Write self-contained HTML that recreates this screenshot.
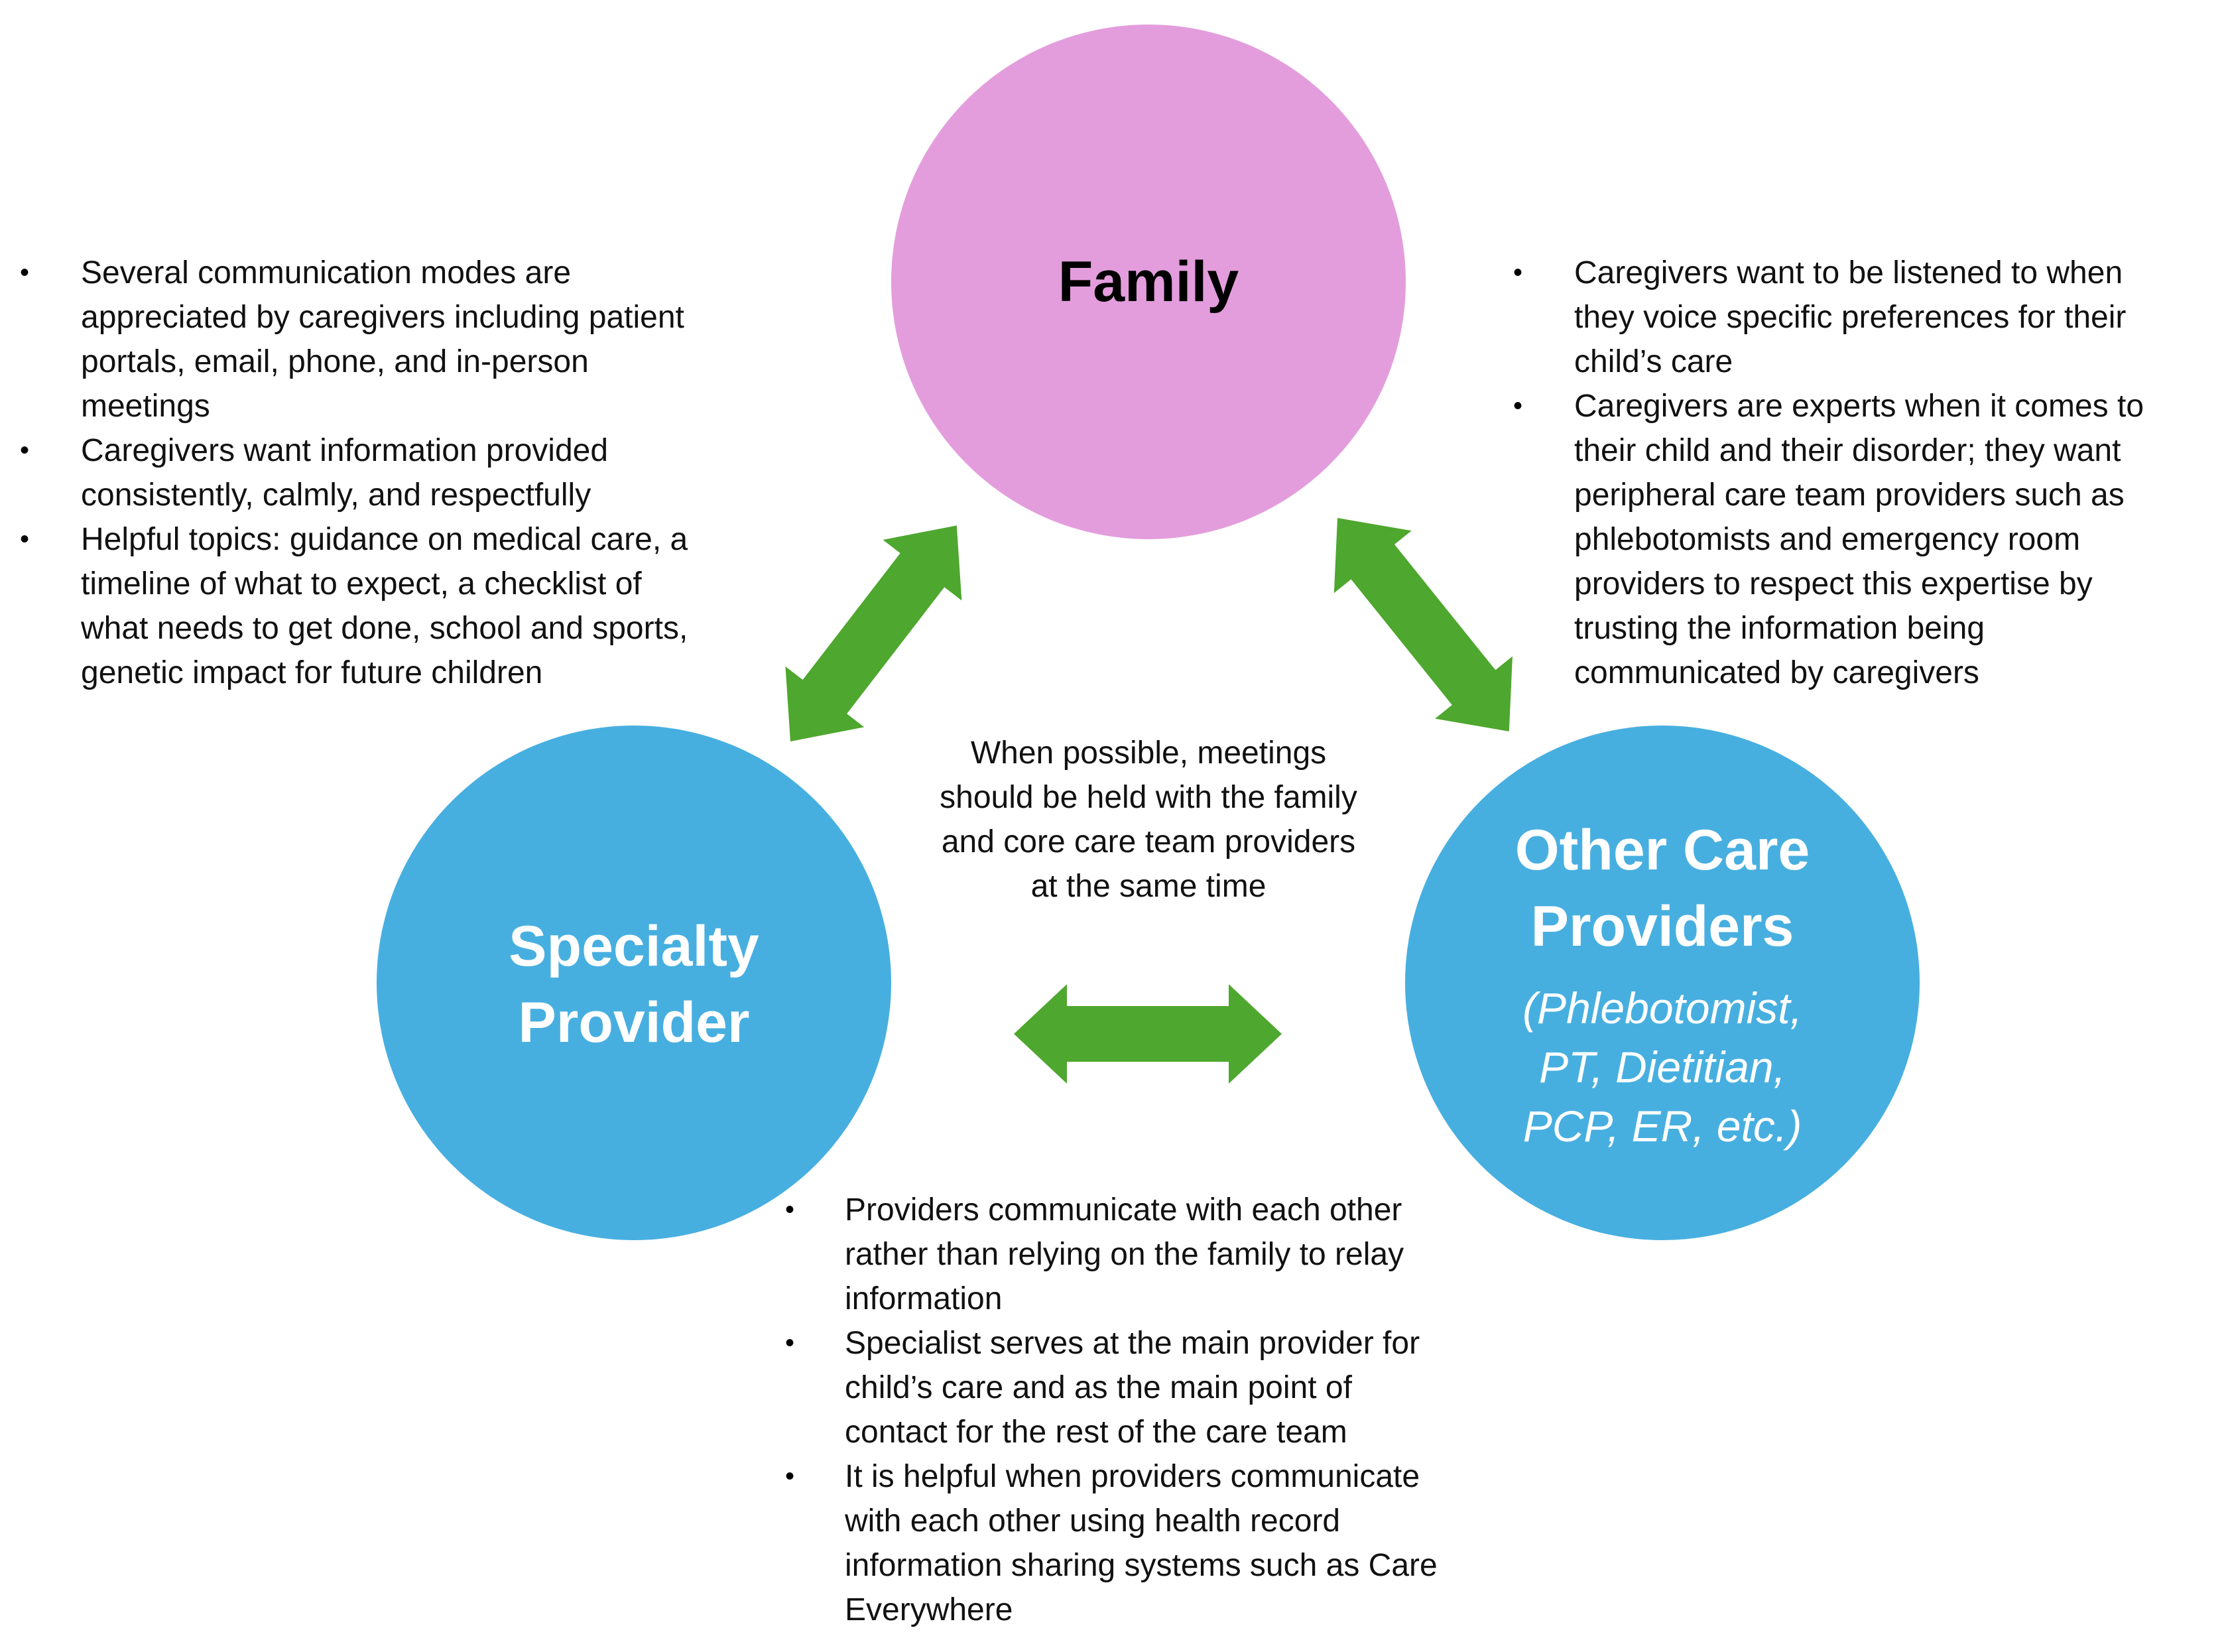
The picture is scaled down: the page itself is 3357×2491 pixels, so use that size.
<!DOCTYPE html>
<html><head><meta charset="utf-8"><style>
body{margin:0;width:3357px;height:2491px;background:#fff;position:relative;overflow:hidden;font-family:"Liberation Sans",sans-serif;}
.t{position:absolute;font-size:48px;line-height:67px;color:#111;white-space:nowrap;}
.b{position:absolute;font-size:40px;line-height:67px;}
svg{position:absolute;left:0;top:0}
.lbl{position:absolute;text-align:center;font-weight:bold;white-space:nowrap;}
</style></head><body>
<svg width="3357" height="2491">
<circle cx="1732" cy="425" r="388" fill="#E39DDC"/>
<circle cx="956" cy="1482" r="388" fill="#47AFE0"/>
<circle cx="2507" cy="1482" r="388" fill="#47AFE0"/>
<g fill="#4EA72E">
<path transform="translate(1529,1559)" d="M0,0 L80,-75 L80,-42 L324,-42 L324,-75 L404,0 L324,75 L324,42 L80,42 L80,75 Z"/>
<path transform="translate(1192,1118) rotate(-52.4)" d="M0,0 L85,-75 L85,-42 L326,-42 L326,-75 L411,0 L326,75 L326,42 L85,42 L85,75 Z"/>
<path transform="translate(2017,781) rotate(51.2)" d="M0,0 L85,-75 L85,-42 L328,-42 L328,-75 L413,0 L328,75 L328,42 L85,42 L85,75 Z"/>
</g>
</svg>
<div class="lbl" style="left:1432px;width:600px;top:370px;font-size:86px;line-height:110px;color:#000">Family</div>
<div class="lbl" style="left:656px;width:600px;top:1370px;font-size:86px;line-height:115px;color:#fff">Specialty<br>Provider</div>
<div class="lbl" style="left:2207px;width:600px;top:1225px;font-size:86px;line-height:115px;color:#fff">Other Care<br>Providers</div>
<div class="lbl" style="left:2207px;width:600px;top:1476px;font-size:66px;line-height:89px;color:#fff;font-weight:normal;font-style:italic">(Phlebotomist,<br>PT, Dietitian,<br>PCP, ER, etc.)</div>

<div class="b" style="left:30px;top:378px">•<br><br><br><br>•<br><br>•</div>
<div class="t" style="left:122px;top:378px">Several communication modes are<br>appreciated by caregivers including patient<br>portals, email, phone, and in-person<br>meetings<br>Caregivers want information provided<br>consistently, calmly, and respectfully<br>Helpful topics: guidance on medical care, a<br>timeline of what to expect, a checklist of<br>what needs to get done, school and sports,<br>genetic impact for future children</div>

<div class="b" style="left:2282px;top:378px">•<br><br><br>•</div>
<div class="t" style="left:2374px;top:378px">Caregivers want to be listened to when<br>they voice specific preferences for their<br>child’s care<br>Caregivers are experts when it comes to<br>their child and their disorder; they want<br>peripheral care team providers such as<br>phlebotomists and emergency room<br>providers to respect this expertise by<br>trusting the information being<br>communicated by caregivers</div>

<div class="t" style="left:1332px;width:800px;text-align:center;top:1102px">When possible, meetings<br>should be held with the family<br>and core care team providers<br>at the same time</div>

<div class="b" style="left:1184px;top:1791px">•<br><br><br>•<br><br><br>•</div>
<div class="t" style="left:1274px;top:1791px">Providers communicate with each other<br>rather than relying on the family to relay<br>information<br>Specialist serves at the main provider for<br>child’s care and as the main point of<br>contact for the rest of the care team<br>It is helpful when providers communicate<br>with each other using health record<br>information sharing systems such as Care<br>Everywhere</div>
</body></html>
